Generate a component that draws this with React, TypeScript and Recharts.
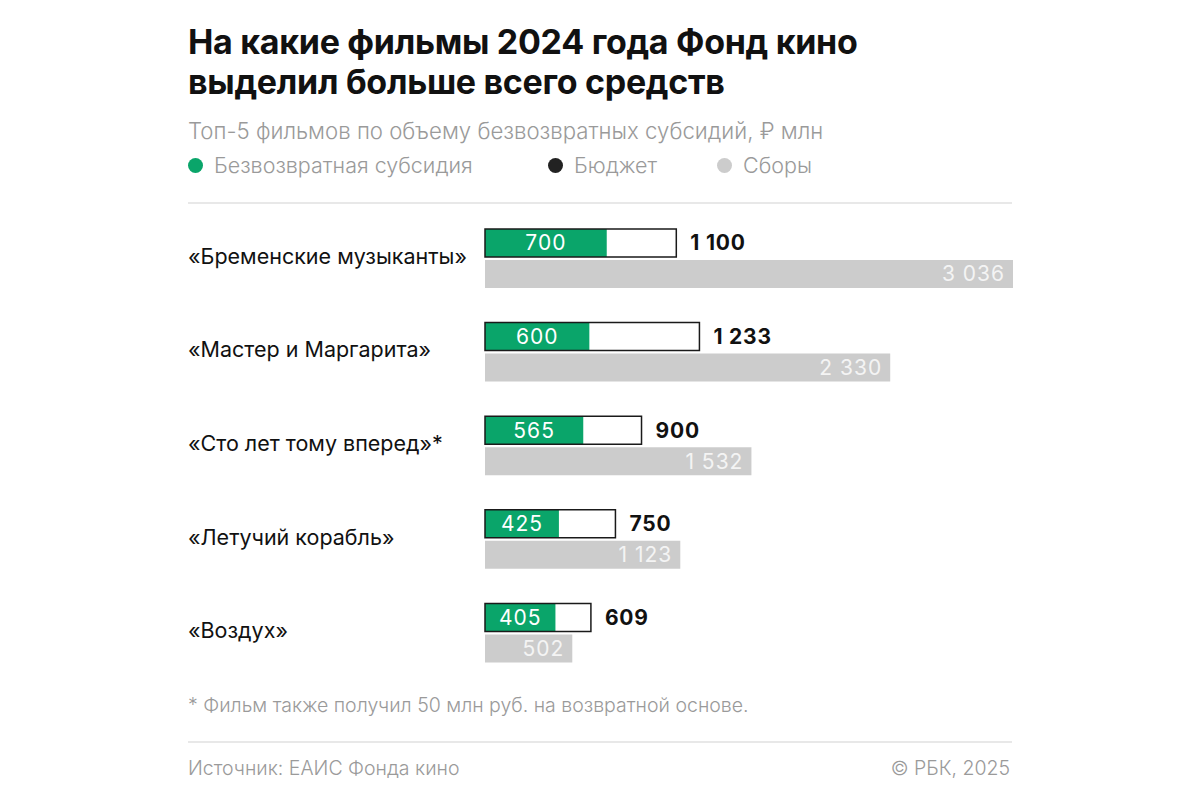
import { BarChart, Bar, XAxis, YAxis, LabelList } from 'recharts';

const FONT = 'Inter, "Noto Sans", sans-serif';

const films = ['«Бременские музыканты»', '«Мастер и Маргарита»', '«Сто лет тому вперед»*', '«Летучий корабль»', '«Воздух»'];
const subsidy = [700, 600, 565, 425, 405];
const budget = [1100, 1233, 900, 750, 609];
const sales = [3036, 2330, 1532, 1123, 502];

const legendItems = [
  { name: 'Безвозвратная субсидия', color: '#0aa56a', left: 188 },
  { name: 'Бюджет', color: '#222222', left: 548 },
  { name: 'Сборы', color: '#cccccc', left: 717 },
];

const data = films.map((name, i) => ({ name, subsidy: subsidy[i], budget: budget[i], sales: sales[i] }));

const fmt = (v: any) => {
  const n = Number(v);
  return n >= 1000 ? `${Math.floor(n / 1000)}\u00A0${String(n % 1000).padStart(3, '0')}` : String(n);
};

function FilmTick(props: any) {
  const { x, y, payload } = props;
  return (
    <text x={x - 297} y={y} dy={5} textAnchor="start" fontSize={21.5} fill="#111" fontFamily={FONT}>
      {payload.value}
    </text>
  );
}

export default function App() {
  return (
    <div style={{ position: 'absolute', left: 0, top: 0, width: 1200, height: 800, background: '#fff', fontFamily: FONT }}>
      <div style={{ position: 'absolute', left: 188, top: 22, fontSize: 34, fontWeight: 700, lineHeight: '40px', letterSpacing: -0.3, color: '#111' }}>
        На какие фильмы 2024 года Фонд кино<br />выделил больше всего средств
      </div>
      <div style={{ position: 'absolute', left: 188, top: 117, fontSize: 22.2, fontWeight: 300, color: '#9a9a9a' }}>
        Топ-5 фильмов по объему безвозвратных субсидий, ₽ млн
      </div>
      {legendItems.map(it => (
        <div key={it.name} style={{ position: 'absolute', left: it.left, top: 152, display: 'flex', alignItems: 'center', gap: 11, fontSize: 21.5, fontWeight: 300, color: '#9a9a9a' }}>
          <span style={{ width: 15, height: 15, borderRadius: '50%', background: it.color, display: 'inline-block' }} />
          <span>{it.name}</span>
        </div>
      ))}
      <div style={{ position: 'absolute', left: 188, top: 202, width: 824, height: 2, background: '#e8e8e8' }} />

      <div style={{ position: 'absolute', left: 0, top: 0 }}>
        <BarChart
          width={1200}
          height={800}
          data={data}
          layout="vertical"
          margin={{ top: 212, right: 187, bottom: 120, left: 188 }}
          barSize={28}
          barGap={3}
        >
          <XAxis type="number" hide domain={[0, 3036]} xAxisId={0} />
          <YAxis yAxisId="a" type="category" dataKey="name" width={297} axisLine={false} tickLine={false} tickSize={0} tickMargin={0} tick={<FilmTick />} />
          <YAxis yAxisId="b" type="category" dataKey="name" hide />
          <Bar yAxisId="b" dataKey="subsidy" fill="#0aa56a" isAnimationActive={false}>
            <LabelList dataKey="subsidy" position="center" fill="#fff" fontSize={21} letterSpacing={1} fontFamily={FONT} formatter={fmt} />
          </Bar>
          <Bar yAxisId="b" dataKey="sales" fill="transparent" isAnimationActive={false} />
          <Bar yAxisId="a" dataKey="budget" fill="none" stroke="#1a1a1a" strokeWidth={1.5} isAnimationActive={false}>
            <LabelList dataKey="budget" position="right" offset={14} fill="#111" fontSize={21} letterSpacing={0.8} fontWeight={700} fontFamily={FONT} formatter={fmt} />
          </Bar>
          <Bar yAxisId="a" dataKey="sales" fill="#cccccc" isAnimationActive={false}>
            <LabelList dataKey="sales" position="insideRight" offset={8} fill="#f4f4f4" fontSize={21} letterSpacing={1} fontFamily={FONT} formatter={fmt} />
          </Bar>
        </BarChart>
      </div>

      <div style={{ position: 'absolute', left: 188, top: 693, fontSize: 19.5, fontWeight: 300, color: '#9a9a9a' }}>
        * Фильм также получил 50 млн руб. на возвратной основе.
      </div>
      <div style={{ position: 'absolute', left: 188, top: 741, width: 824, height: 2, background: '#e8e8e8' }} />
      <div style={{ position: 'absolute', left: 188, top: 756, width: 822, display: 'flex', justifyContent: 'space-between', fontSize: 19.5, fontWeight: 300, color: '#9a9a9a' }}>
        <span>Источник: ЕАИС Фонда кино</span>
        <span>© РБК, 2025</span>
      </div>
    </div>
  );
}
